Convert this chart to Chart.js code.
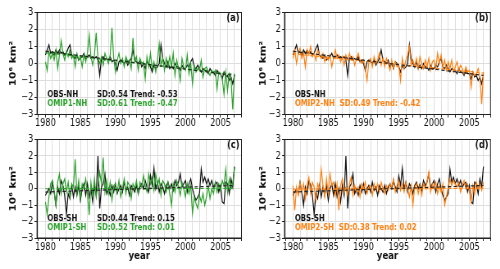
<!DOCTYPE html>
<html>
<head>
<meta charset="utf-8">
<script src="https://cdn.jsdelivr.net/npm/chart.js@4"></script>
<style>
  html, body { margin: 0; padding: 0; background: #fff; overflow: hidden; }
  #wrap { position: relative; width: 500px; height: 269px; }
  canvas { position: absolute; transform-origin: 0 0; }
</style>
</head>
<body>
<div id="wrap">
  <canvas id="pa"></canvas>
  <canvas id="pb"></canvas>
  <canvas id="pc"></canvas>
  <canvas id="pd"></canvas>
</div>
<script>
'use strict';

// sea-ice area anomalies (10^6 km2), 4 samples a year, 1980.0 .. 2007.0
const obsNH = [
  0.5, 0.8, 1.1, 0.6,   0.7, 0.5, 0.8, 0.6,   0.8, 0.6, 0.7, 0.5,   0.6, 0.9, 1.1, 0.5,
  0.4, 0.3, 0.5, 0.2,   0.3, 0.4, 0.6, 0.3,   0.4, 0.5, 0.3, 0.4,   0.3, 0.4, 0.2, -0.7,
  0.3, 0.4, 0.2, 0.3,   0.2, 0.4, 0.1, 0.2,   0.0, -0.4, 0.1, 0.2,  0.1, 0.0, 0.2, -0.1,
  0.1, 0.3, 0.8, 0.2,   0.1, 0.0, 0.2, -0.2,  0.0, -0.3, 0.1, 0.0,  -0.2, -0.5, -0.1, -0.3,
  -0.2, 0.0, 1.1, 0.3,  0.0, -0.2, 0.1, -0.3, -0.1, -0.3, 0.0, -0.2, -0.2, -0.4, -0.1, -0.3,
  -0.3, -0.1, -0.2, 0.1, 0.3, -0.2, -0.3, -0.1, -0.3, -0.5, -0.3, -0.4, -0.4, -0.6, -0.3, -0.5,
  -0.5, -0.7, -0.4, -0.6, -0.6, -0.9, -0.5, -0.8, -0.7, -1.0, -0.8, -1.2,
  -0.7,
];
const omip1NH = [
  0.1, -0.4, 0.7, 0.3,  0.6, 0.2, 0.8, -0.3,  0.5, 1.35, 0.6, 0.2,  0.7, 0.4, 0.8, 0.3,
  0.5, -0.2, 0.6, 0.2,  0.4, -0.2, 0.5, 0.1,  0.6, 1.7, 0.4, -0.1,  0.5, 1.8, 0.3, 0.0,
  0.4, -0.1, 0.6, 0.3,  0.0, 0.5, 2.1, 0.3,   -0.5, 0.2, 0.6, 0.0,  0.3, -0.2, 0.4, 0.1,
  0.2, -0.3, 1.5, 0.1,  0.4, -0.4, 0.3, 0.0,  0.1, -0.9, 0.4, -0.2, 0.6, -0.3, 0.1, -0.5,
  0.2, 1.15, -0.1, 0.3, -0.4, 0.3, -0.2, 0.4, -0.2, 0.6, -0.7, 0.2, -0.3, -1.0, 0.3, -0.2,
  -0.4, 0.5, -0.6, 0.0, -1.2, -0.1, -0.5, -0.3, -0.4, 0.2, -0.8, -0.3, -0.2, -0.5, -0.7, -0.4,
  -0.6, -0.4, -1.5, -0.5, -0.6, -0.9, -1.8, -0.5, -1.6, -0.6, -0.9, -2.7,
  -0.6,
];
const omip2NH = [
  0.3, 0.8, 0.0, 0.6,   0.9, 0.3, 0.6, -0.2,  0.8, 0.5, 1.0, 0.4,   0.6, 0.2, 0.8, 0.5,
  0.3, 0.6, 0.1, 0.4,   0.2, 0.5, -0.2, 0.3,  0.8, 0.3, 0.5, 0.1,   0.4, -0.1, 0.5, 0.2,
  0.6, 0.2, 0.4, -0.1,  0.3, 0.6, 0.2, 0.0,   0.2, -0.3, -1.0, 0.1, 0.3, -0.2, 0.4, 0.0,
  0.2, 0.6, -0.1, 0.3,  -0.2, 0.3, 0.0, -0.4, 0.2, -0.3, 0.1, -0.2, -0.1, -1.0, 0.3, -0.3,
  0.2, 0.5, 1.0, -0.1,  0.2, -0.2, 0.3, -0.3, 0.4, 0.0, -0.3, 0.2,  -0.2, 0.3, -0.4, 0.1,
  0.2, -0.3, 0.6, 0.0,  0.5, -0.2, 0.2, -0.4, 0.1, -0.3, 0.2, -0.5, -0.2, 0.1, -0.4, -0.1,
  -0.3, -0.6, -0.2, -0.5, -0.4, -1.4, -0.5, -0.7, -0.6, -0.3, -0.8, -2.4,
  -0.5,
];
const obsSH = [
  -0.4, -0.2, 0.0, -0.3, 0.4, -0.2, -1.0, 0.1, -0.3, 0.5, 0.2, -0.4, -1.55, -0.3, -0.6, 0.2,
  -0.5, 0.1, -0.4, 0.2, -0.7, 0.0, 0.3, -0.4, 0.3, -0.5, 0.0, -0.8,  0.2, -0.4, 2.0, -1.2,
  0.1, 0.3, 0.9, -0.3,  0.0, -0.4, 0.2, -0.2, 0.3, -0.3, 0.0, 0.2,  -0.2, 0.4, -0.1, 0.1,
  -0.4, 0.2, 0.0, -0.2, 0.2, -0.3, 0.1, 0.3,  0.0, 0.5, 0.1, -0.2,  0.8, 0.2, 1.25, 0.0,
  0.4, -0.2, 0.3, 0.1,  -0.3, 0.2, 0.4, 0.0,  0.3, -0.1, 0.5, 0.2,  0.4, 0.9, 0.1, 0.3,
  0.5, -0.2, 0.3, 0.6,  0.0, -0.4, -0.7, -0.5, -0.3, 1.2, 0.4, 0.7, 0.3, 0.6, 0.2, 0.5,
  0.1, 0.3, 0.4, -0.2,  0.2, -0.8, -0.9, 0.4, 0.3, -0.3, 0.6, 0.1,
  1.35,
];
const omip1SH = [
  -0.8, -1.55, -0.5, 0.3, 0.5, -0.2, -1.0, 0.4, 0.9, -0.3, 0.3, 0.6, -0.2, 0.4, -0.5, 0.3,
  0.1, 1.8, -0.3, 0.5,  -0.6, 0.3, 0.0, 0.6,  -0.3, -1.6, 0.4, -0.4, 0.6, -0.5, 0.2, 1.0,
  0.3, 1.9, -0.2, 0.5,  -0.3, 0.4, -0.7, 0.2, 0.3, -0.2, 0.5, -0.5, 0.0, 0.6, -0.3, 0.4,
  0.2, -0.6, 0.3, 0.0,  0.5, -0.3, 0.4, 0.1,  0.8, 0.2, -0.2, 0.9,  0.3, 0.7, -0.1, 0.9,
  0.2, 0.6, -0.4, 0.5,  0.3, -0.2, 0.4, -0.3, -1.0, 0.3, -0.2, 0.5, 0.1, -0.4, 0.4, 0.0,
  -0.5, 0.3, -0.3, 0.2, -1.5, -0.5, -0.9, -1.2, -0.4, -0.8, -0.3, -1.0, -0.5, 0.2, -0.6, 0.0,
  -0.3, 0.4, -0.2, 0.3, -0.1, 0.5, 0.2, 1.2,  -0.2, 0.6, 0.0, 0.3,
  1.3,
];
const omip2SH = [
  0.2, -1.3, 0.1, -0.4, 0.4, -0.2, 0.3, -0.6, 0.2, 0.7, -0.3, 0.4,  0.1, -0.7, 0.3, 0.0,
  1.2, 0.2, -0.5, 0.6,  -0.3, 0.9, 0.2, 0.4,  -0.4, 0.3, -1.3, 0.2, 0.6, -0.2, 0.1, -0.4,
  0.3, 0.7, -0.4, 0.2,  -0.2, 0.1, -0.5, 0.3, 0.0, 0.4, -0.3, 0.1,  0.2, -0.4, 0.3, -0.1,
  0.3, -0.2, 0.4, 0.0,  -0.3, 0.2, -0.1, 0.3, 0.1, 0.6, -0.2, 0.2,  0.5, -0.1, 0.3, -0.2,
  0.4, 0.0, -0.5, 0.2,  -1.0, 0.1, 0.3, -0.3, 0.2, -0.4, 0.3, 0.0,  0.4, 1.0, -0.2, 0.3,
  0.0, 0.4, -0.3, 0.2,  -0.2, 0.3, -1.0, -0.5, 0.1, 0.6, 0.2, 0.5,  0.3, 0.1, 0.4, -0.2,
  0.2, 0.5, 0.0, 0.3,   -0.1, -0.8, 0.2, -0.3, 0.4, 0.0, 0.3, -0.1,
  0.4,
];

// linear trends, start and end value (1980 -> 2007)
const trendYears = [1980, 2007];
const trendObsNH = [0.72, -0.70];
const trendOmip1NH = [0.63, -0.64];
const trendOmip2NH = [0.57, -0.56];
const trendObsSH = [-0.20, 0.20];
const trendOmip1SH = [0.00, 0.02];
const trendOmip2SH = [-0.03, 0.03];

const yTicks = [-3, -2, -1, 0, 1, 2, 3];
const xTickLabels = [1980, 1985, 1990, 1995, 2000, 2005];

const quarters = obsNH.map((_, i) => 1980 + i / 4);

const S = 0.82; // the figure looks squeezed sideways, so draw wide and squeeze
const FONT = '"DejaVu Sans", sans-serif';
const GREEN = '#2ca02c';
const ORANGE = '#ff7f0e';

Chart.defaults.font.family = FONT;
Chart.defaults.color = '#111';

function pts(vals, xs) {
  return vals.map((v, i) => ({ x: xs[i], y: v }));
}

const panelDecor = {
  id: 'panelDecor',
  afterDraw(chart, args, o) {
    const { ctx, chartArea: a, scales } = chart;
    ctx.save();
    ctx.strokeStyle = '#222';
    ctx.lineWidth = 1;
    ctx.strokeRect(a.left, a.top, a.right - a.left, a.bottom - a.top);
    ctx.fillStyle = '#111';
    ctx.font = 'bold 10px ' + FONT;
    ctx.textAlign = 'right';
    ctx.textBaseline = 'middle';
    ctx.fillText(o.letter, a.right - 2 / S, a.top + 5.5);
    ctx.font = 'bold 8.5px ' + FONT;
    ctx.textAlign = 'left';
    o.lines.forEach((ln, i) => {
      const y = scales.y.getPixelForValue(i === 0 ? -1.85 : -2.35);
      ctx.fillStyle = ln.color;
      ctx.fillText(ln.name, a.left + 10.3 / S, y);
      if (ln.stats) ctx.fillText(ln.stats, a.left + 60 / S, y);
    });
    ctx.restore();
  },
};

function drawPanel(id, g, obs, model, trObs, trModel, color, notes) {
  const cv = document.getElementById(id);
  const W = Math.round(250 / S);
  cv.width = W;
  cv.height = g.h;
  cv.style.left = g.px + 'px';
  cv.style.top = g.py + 'px';
  cv.style.transform = 'scaleX(' + S + ')';

  const line = (data, col, w, dash) => ({
    data, borderColor: col, borderWidth: w, borderDash: dash || [],
    pointRadius: 0, tension: 0, fill: false,
  });

  new Chart(cv, {
    type: 'line',
    data: {
      datasets: [
        line(pts(trObs, trendYears), '#222', 1.2, [4, 3]),
        line(pts(trModel, trendYears), color, 1.2, [4, 3]),
        line(pts(model, quarters), color, 1.2),
        line(pts(obs, quarters), '#111', 1.2),
      ],
    },
    options: {
      responsive: false,
      animation: false,
      devicePixelRatio: 1,
      layout: { padding: { left: 0, right: W - g.right / S, top: g.top, bottom: 0 } },
      plugins: {
        legend: { display: false },
        tooltip: { enabled: false },
        panelDecor: notes,
      },
      scales: {
        x: {
          type: 'linear',
          min: 1978.8,
          max: 2008.0,
          afterFit: (s) => { s.height = g.h - g.bottom; },
          ticks: {
            stepSize: 1, includeBounds: false, autoSkip: false, maxRotation: 0,
            padding: 0, color: '#111', font: { size: 10 },
            callback: (v) => (xTickLabels.includes(v) ? String(v) : ''),
          },
          grid: { color: '#dedede', lineWidth: 1, tickLength: 3, tickColor: '#222' },
          border: { display: true, color: '#222', width: 1 },
          title: {
            display: g.showYear, text: 'year', color: '#111',
            font: { size: 10.5, weight: 'bold' }, padding: { top: 0, bottom: 6.5 },
          },
        },
        y: {
          min: -3,
          max: 3,
          afterFit: (s) => { s.width = g.left / S; },
          afterBuildTicks: (s) => { s.ticks = yTicks.map((v) => ({ value: v })); },
          ticks: {
            padding: 1.5, color: '#111', font: { size: 10 },
            callback: (v) => (v < 0 ? '\u2212' + Math.abs(v) : String(v)),
          },
          grid: { color: '#dedede', lineWidth: 1, tickLength: 3, tickColor: '#222' },
          border: { display: true, color: '#222', width: 1 },
          title: {
            display: true, text: '10\u2076 km\u00b2', color: '#111',
            font: { size: 10.5, weight: 'bold' }, padding: { top: 9.5, bottom: 0 },
          },
        },
      },
    },
    plugins: [panelDecor],
  });
}

const topRow = { h: 132, py: 0, top: 12.5, bottom: 114.5, showYear: false };
const botRow = { h: 137, py: 132, top: 3, bottom: 106, showYear: true };

drawPanel('pa', { ...topRow, px: 0, left: 37, right: 241.5 }, obsNH, omip1NH, trendObsNH, trendOmip1NH, GREEN, {
  letter: '(a)',
  lines: [
    { name: 'OBS-NH', stats: 'SD:0.54 Trend: -0.53', color: '#111' },
    { name: 'OMIP1-NH', stats: 'SD:0.61 Trend: -0.47', color: GREEN },
  ],
});
drawPanel('pb', { ...topRow, px: 250, left: 34.5, right: 240.5 }, obsNH, omip2NH, trendObsNH, trendOmip2NH, ORANGE, {
  letter: '(b)',
  lines: [
    { name: 'OBS-NH', color: '#111' },
    { name: 'OMIP2-NH  SD:0.49 Trend: -0.42', color: ORANGE },
  ],
});
drawPanel('pc', { ...botRow, px: 0, left: 37, right: 241.5 }, obsSH, omip1SH, trendObsSH, trendOmip1SH, GREEN, {
  letter: '(c)',
  lines: [
    { name: 'OBS-SH', stats: 'SD:0.44 Trend: 0.15', color: '#111' },
    { name: 'OMIP1-SH', stats: 'SD:0.52 Trend: 0.01', color: GREEN },
  ],
});
drawPanel('pd', { ...botRow, px: 250, left: 34.5, right: 240.5 }, obsSH, omip2SH, trendObsSH, trendOmip2SH, ORANGE, {
  letter: '(d)',
  lines: [
    { name: 'OBS-SH', color: '#111' },
    { name: 'OMIP2-SH  SD:0.38 Trend: 0.02', color: ORANGE },
  ],
});
</script>
</body>
</html>
